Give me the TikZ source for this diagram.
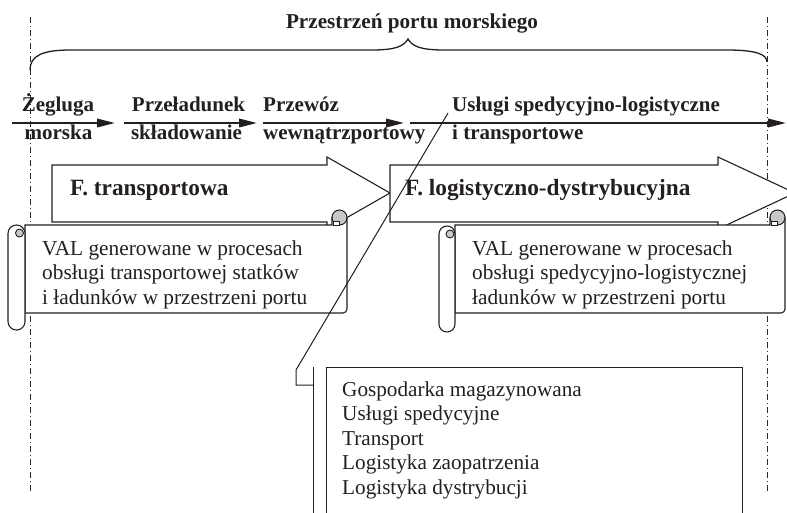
\documentclass[tikz,border=0pt]{standalone}
\usepackage{fontspec}
\setmainfont{Liberation Serif}
\usetikzlibrary{arrows.meta}
\definecolor{inkc}{HTML}{231F20}
\definecolor{curlgray}{HTML}{C8C8C8}
\definecolor{dashc}{HTML}{2A2A2A}
\begin{document}
\begin{tikzpicture}[x=1pt,y=-1pt,
  every node/.style={inner sep=0pt, text=inkc},
  titlestyle/.style={font=\fontsize{21.2}{25}\selectfont\bfseries, anchor=base},
  rowlab/.style={font=\fontsize{21}{25}\selectfont\bfseries},
  flab/.style={font=\fontsize{23.3}{28}\selectfont\bfseries, anchor=base west},
  vtext/.style={font=\fontsize{21.3}{25}\selectfont, anchor=base west},
  ltext/.style={font=\fontsize{21.2}{25}\selectfont, anchor=base west},
  flowarrow/.style={draw=inkc, line width=2pt, -{Triangle[length=18pt,width=8.5pt]}},
  blockarrow/.style={draw=inkc, fill=white, line width=1.1pt, line join=miter},
  scrollline/.style={draw=inkc, fill=white, line width=1.1pt},
  curlstyle/.style={draw=inkc, fill=curlgray, line width=1pt},
  dashdotline/.style={draw=dashc, line width=0.9pt, dash pattern=on 6pt off 3pt on 1pt off 3pt},
  bracestyle/.style={draw=inkc, line width=1.3pt},
  thinl/.style={draw=inkc, line width=1pt}
]
\useasboundingbox (0,0) rectangle (787,512);
\clip (0,0) rectangle (787,512);

% dash-dot boundary lines
\coordinate (dlt) at (30,17);  \coordinate (dlb) at (30,493);
\coordinate (drt) at (767,17); \coordinate (drb) at (767,493);
\draw[dashdotline] (dlt) -- (dlb);
\draw[dashdotline] (drt) -- (drb);

% brace
\draw[bracestyle] (30,70) .. controls (30,56) and (42,50) .. (70,50) -- (372,50)
  .. controls (396,50) and (404,46) .. (408,39)
  .. controls (412,46) and (420,50) .. (444,50) -- (727,50)
  .. controls (755,50) and (767,54) .. (767,62);
\node[titlestyle] (title) at (412,28) {Przestrzeń portu morskiego};

% flow arrows row
\coordinate (r1a) at (12,123);  \coordinate (r1b) at (115,123);
\coordinate (r2a) at (124,123); \coordinate (r2b) at (257,123);
\coordinate (r3a) at (263,123); \coordinate (r3b) at (404,123);
\coordinate (r4a) at (410,123); \coordinate (r4b) at (786,123);
\draw[flowarrow] (r1a) -- (r1b);
\draw[flowarrow] (r2a) -- (r2b);
\draw[flowarrow] (r3a) -- (r3b);
\draw[flowarrow] (r4a) -- (r4b);

\node[rowlab, anchor=base] (zeg) at (58,111) {Żegluga};
\node[rowlab, anchor=base] (mor) at (58.5,139.5) {morska};
\node[rowlab, anchor=base] (prz) at (188.5,111) {Przeładunek};
\node[rowlab, anchor=base] (skl) at (186.5,139.5) {składowanie};
\node[rowlab, anchor=base west] (prw) at (263,111) {Przewóz};
\node[rowlab, anchor=base west] (wew) at (263,139.5) {wewnątrzportowy};
\node[rowlab, anchor=base west] (usl) at (452,111) {Usługi spedycyjno-logistyczne};
\node[rowlab, anchor=base west] (itr) at (452,139.5) {i transportowe};

% block arrows
\draw[blockarrow] (52,165) -- (327,165) -- (327,157) -- (390,193) -- (327,229) -- (327,222) -- (52,222) -- cycle;
\node[flab] (ft) at (70,195) {F. transportowa};
\draw[blockarrow] (390,165) -- (718,165) -- (718,157) -- (795,193) -- (718,229) -- (718,222) -- (390,222) -- cycle;
\node[flab] (fl) at (405,195) {F. logistyczno-dystrybucyjna};

% scroll 1
\filldraw[scrollline] (25,225) -- (332,225) -- (332,217.5) -- (347,217.5) -- (347,309)
  .. controls (347,311.2) and (345.2,313) .. (343,313) -- (25,313) -- cycle;
\filldraw[curlstyle] (339.5,217.5) circle[radius=7.5pt];
\filldraw[draw=inkc, fill=white, line width=0.8pt] (333,221) rectangle (339.5,225);
\filldraw[scrollline, rounded corners=8.4pt] (8,225) rectangle (25,330);
\filldraw[curlstyle, line width=0.9pt] (19.5,233) circle[radius=4pt];
\node[vtext] (v1a) at (42,255) {VAL generowane w procesach};
\node[vtext] (v1b) at (42,279.5) {obsługi transportowej statków};
\node[vtext] (v1c) at (42,304) {i ładunków w przestrzeni portu};

% scroll 2
\filldraw[scrollline] (455,225) -- (770,225) -- (770,217.5) -- (785,217.5) -- (785,309)
  .. controls (785,311.2) and (783.2,313) .. (781,313) -- (455,313) -- cycle;
\filldraw[curlstyle] (777.5,217.5) circle[radius=7.5pt];
\filldraw[draw=inkc, fill=white, line width=0.8pt] (771,221) rectangle (777.5,225);
\filldraw[scrollline, rounded corners=7.9pt] (439,226) rectangle (455,332);
\filldraw[curlstyle, line width=0.9pt] (450,234) circle[radius=4pt];
\node[vtext] (v2a) at (472,255) {VAL generowane w procesach};
\node[vtext] (v2b) at (472,279.5) {obsługi spedycyjno-logistycznej};
\node[vtext] (v2c) at (472,304) {ładunków w przestrzeni portu};

% callout box
\draw[thinl] (326,530) -- (326,367) -- (742,367) -- (742,530);
\coordinate (abt) at (313,367); \coordinate (abb) at (313,530);
\draw[thinl] (abt) -- (abb);
\node[ltext] (g1) at (342,396) {Gospodarka magazynowana};
\node[ltext] (g2) at (342,420.5) {Usługi spedycyjne};
\node[ltext] (g3) at (342,445) {Transport};
\node[ltext] (g4) at (342,469.5) {Logistyka zaopatrzenia};
\node[ltext] (g5) at (342,494) {Logistyka dystrybucji};

% leader line
\coordinate (ld0) at (313,385);
\coordinate (ld1) at (296,385);
\coordinate (ld2) at (296,370);
\coordinate (ld3) at (448,113);
\draw[thinl] (ld0) -- (ld1) -- (ld2) -- (ld3);
\end{tikzpicture}
\end{document}
